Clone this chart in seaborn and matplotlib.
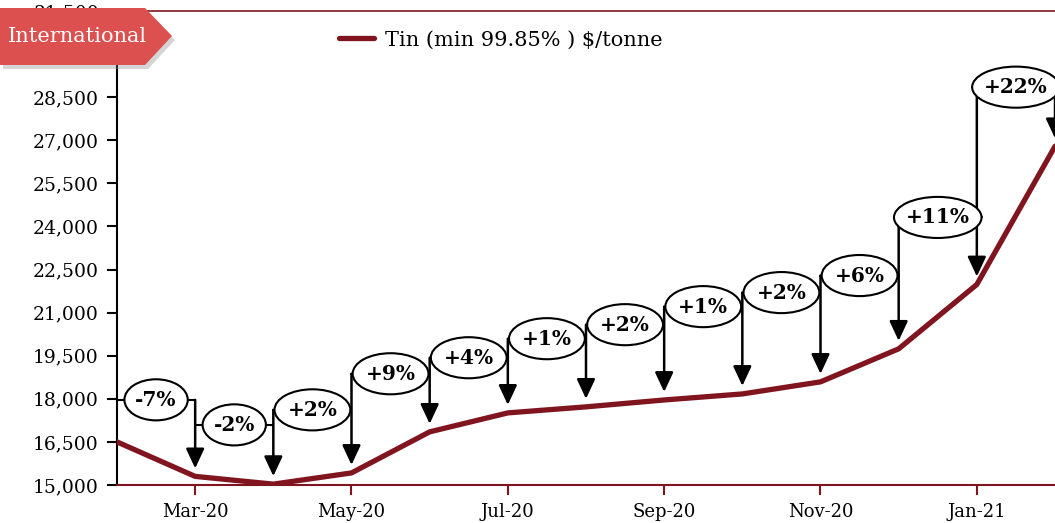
import numpy as np
import pandas as pd
import matplotlib
matplotlib.use("Agg")
import matplotlib.pyplot as plt
import seaborn as sns
from matplotlib.patches import Ellipse, Polygon, FancyArrowPatch

# 数据
months = ['Feb-20', 'Mar-20', 'Apr-20', 'May-20', 'Jun-20', 'Jul-20', 'Aug-20',
          'Sep-20', 'Oct-20', 'Nov-20', 'Dec-20', 'Jan-21', 'Feb-21']
tin_price = [16500, 15300, 15030, 15420, 16850, 17510, 17720,
             17960, 18170, 18590, 19740, 21980, 26790]
change_labels = ['-7%', '-2%', '+2%', '+9%', '+4%', '+1%', '+2%',
                 '+1%', '+2%', '+6%', '+11%', '+22%']
y_ticks = [15000, 16500, 18000, 19500, 21000, 22500, 24000, 25500, 27000, 28500, 30000, 31500]

# 标注气泡的高度（版式）
callout_y = [17965, 17093, 17616, 18872, 19430, 20093, 20581, 21209, 21698, 22291, 24314, 28849]

line_red = '#80151f'
banner_red = '#dc5050'

sns.set_style('white')
plt.rcParams['font.family'] = ['DejaVu Serif']
plt.rcParams['text.color'] = 'black'
plt.rcParams['xtick.labelcolor'] = 'black'
plt.rcParams['ytick.labelcolor'] = 'black'

df = pd.DataFrame({'pos': np.arange(len(months)), 'price': tin_price})

fig = plt.figure(figsize=(10.55, 5.23), dpi=100)
ax = fig.add_axes([117 / 1055, 38 / 523, 1 - 117 / 1055, 474 / 523])

sns.lineplot(data=df, x='pos', y='price', color=line_red, linewidth=3.8,
             label='Tin (min 99.85% ) $/tonne', ax=ax, zorder=3)

ax.set_xlim(0, len(months) - 1)
ax.set_ylim(15000, 31500)
ax.set_yticks(y_ticks)
ax.set_yticklabels([f'{v:,}' for v in y_ticks])
ax.set_xticks(df['pos'][1::2])
ax.set_xticklabels(months[1::2])
ax.set_xlabel('')
ax.set_ylabel('')

ax.spines['right'].set_visible(False)
ax.spines['left'].set_color('black')
ax.spines['left'].set_linewidth(1.5)
ax.spines['bottom'].set_color(line_red)
ax.spines['bottom'].set_linewidth(1.5)
ax.spines['top'].set_color(line_red)
ax.spines['top'].set_linewidth(1.2)
ax.tick_params(axis='y', direction='out', length=7, width=1.5, color='black',
               labelsize=13.5, left=True, pad=6, labelcolor='black')
ax.tick_params(axis='x', direction='out', length=7, width=1.5, color=line_red,
               labelsize=13, bottom=True, pad=6, labelcolor='black')

# 百分比标注
px_y = 1500 / 43.0  # 每像素的数值
ell_h = 41 * px_y
for i, lab in enumerate(change_labels):
    xi = i + 1
    ly = callout_y[i]
    if lab.startswith('-'):
        w = 0.81
    elif len(lab) > 3:
        w = 1.12
    else:
        w = 0.97
    cx = xi - 0.5
    ax.add_patch(Ellipse((cx, ly), w, ell_h, facecolor='white', edgecolor='black',
                         linewidth=1.5, zorder=5, clip_on=False))
    ax.text(cx, ly, lab, ha='center', va='center', fontsize=14.5, fontweight='bold',
            color='black', zorder=6)
    # 左右连接线
    ax.plot([xi - 1, cx - w / 2], [ly, ly], color='black', lw=1.5, zorder=4)
    ax.plot([cx + w / 2, xi], [ly, ly], color='black', lw=1.5, zorder=4, clip_on=False)
    top = max(ly, callout_y[i + 1]) if i + 1 < len(callout_y) else ly
    arr = FancyArrowPatch((xi, top), (xi, tin_price[xi] + 8 * px_y),
                          arrowstyle='-|>,head_length=0.6,head_width=0.28',
                          mutation_scale=20, color='black', lw=1.8,
                          shrinkA=0, shrinkB=0, zorder=4)
    ax.add_patch(arr)

leg = ax.legend(loc='center left', bbox_to_anchor=(320 / 1055, 1 - 40 / 523),
                bbox_transform=fig.transFigure, frameon=False, fontsize=15,
                handlelength=1.7, handletextpad=0.5)
for t in leg.get_texts():
    t.set_color('black')

# 左上角 International 标签
pts = [(0, 8), (145, 8), (172, 36), (145, 65), (0, 65)]
to_fig = lambda p, dx=0, dy=0: ((p[0] + dx) / 1055, 1 - (p[1] + dy) / 523)
fig.add_artist(Polygon([to_fig(p, 3, 4) for p in pts], closed=True,
                       transform=fig.transFigure, facecolor='#888888', alpha=0.35,
                       edgecolor='none', zorder=8))
fig.add_artist(Polygon([to_fig(p) for p in pts], closed=True,
                       transform=fig.transFigure, facecolor=banner_red,
                       edgecolor='none', zorder=9))
fig.text(77 / 1055, 1 - 37 / 523, 'International', color='white', fontsize=15,
         ha='center', va='center', zorder=10)

fig.savefig('out.png', dpi=100)
